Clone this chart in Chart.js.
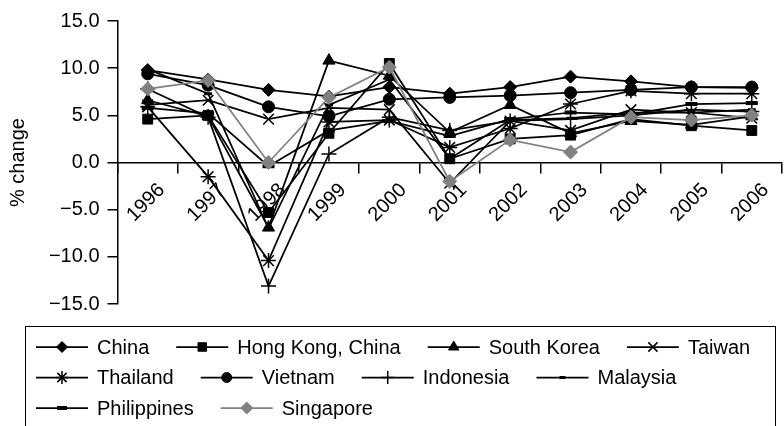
<!DOCTYPE html>
<html>
<head>
<meta charset="utf-8">
<style>
  html, body { margin: 0; padding: 0; background: #ffffff; overflow: hidden; }
  #wrap { width: 792px; height: 426px; position: relative; }
</style>
<script src="https://cdn.jsdelivr.net/npm/chart.js@4.4.1/dist/chart.umd.min.js"></script>
</head>
<body>
<div id="wrap"><canvas id="c" width="792" height="426"></canvas></div>
<script>
// Annual GDP growth, % change, 1996-2006
const years = ['1996','1997','1998','1999','2000','2001','2002','2003','2004','2005','2006'];

const china       = [9.8, 8.8, 7.7, 7.0, 8.0, 7.3, 8.0, 9.1, 8.6, 8.0, 7.9];
const hongKong    = [4.6, 5.0, -5.3, 3.1, 10.5, 0.4, 2.5, 2.9, 4.6, 3.9, 3.4];
const southKorea  = [6.6, 4.9, -6.9, 10.8, 9.2, 3.2, 6.1, 3.1, 4.4, 4.0, 4.9];
const taiwan      = [6.1, 6.6, 4.6, 5.8, 5.6, -2.2, 4.4, 3.4, 5.6, 5.3, 4.7];
const thailand    = [5.9, -1.5, -10.4, 4.3, 4.5, 1.6, 3.6, 6.2, 7.6, 7.3, 7.3];
const vietnam     = [9.4, 8.2, 5.9, 4.9, 6.7, 6.9, 7.1, 7.4, 7.7, 8.0, 8.0];
const indonesia   = [7.8, 4.8, -13.1, 0.9, 4.8, 3.4, 4.4, 4.6, 5.0, 5.6, 5.4];
const malaysia    = [9.9, 7.3, -7.0, 6.1, 8.8, 0.4, 4.5, 4.7, 5.3, 5.3, 5.6];
const philippines = [5.8, 5.2, -0.4, 3.4, 4.4, 2.8, 4.6, 5.3, 5.1, 6.2, 6.3];
const singapore   = [7.8, 8.7, 0.0, 6.9, 10.1, -2.0, 2.4, 1.1, 4.8, 4.5, 5.0];

const seriesNames = ['China', 'Hong Kong, China', 'South Korea', 'Taiwan', 'Thailand',
                     'Vietnam', 'Indonesia', 'Malaysia', 'Philippines', 'Singapore'];
const seriesValues = [china, hongKong, southKorea, taiwan, thailand,
                      vietnam, indonesia, malaysia, philippines, singapore];

const yTicks = [-15, -10, -5, 0, 5, 10, 15];

const FONT = '"Liberation Sans", Arial, Helvetica, sans-serif';
const BLACK = '#000000';
const GREY = '#808080';

// marker look for each series
const markerStyles = [
  { style: 'rectRot',  r: 6.5, fill: BLACK, stroke: BLACK, bw: 1,   line: BLACK },
  { style: 'rect',     r: 7,   fill: BLACK, stroke: BLACK, bw: 1,   line: BLACK },
  { style: 'triangle', r: 7,   fill: BLACK, stroke: BLACK, bw: 1,   line: BLACK },
  { style: 'crossRot', r: 7.5, fill: BLACK, stroke: BLACK, bw: 1.5, line: BLACK },
  { style: 'star',     r: 7.5, fill: BLACK, stroke: BLACK, bw: 1.5, line: BLACK },
  { style: 'circle',   r: 6,   fill: BLACK, stroke: BLACK, bw: 1,   line: BLACK },
  { style: 'cross',    r: 7.5, fill: BLACK, stroke: BLACK, bw: 1.5, line: BLACK },
  { style: 'line',     r: 4,   fill: BLACK, stroke: BLACK, bw: 3,   line: BLACK },
  { style: 'line',     r: 6,   fill: BLACK, stroke: BLACK, bw: 4,   line: BLACK },
  { style: 'rectRot',  r: 7,   fill: GREY,  stroke: GREY,  bw: 1,   line: GREY }
];

const datasets = seriesNames.map((name, i) => {
  const m = markerStyles[i];
  return {
    label: name,
    data: seriesValues[i],
    borderColor: m.line,
    borderWidth: 1.75,
    tension: 0,
    fill: false,
    pointStyle: m.style,
    pointRadius: m.r,
    pointHoverRadius: m.r,
    pointBackgroundColor: m.fill,
    pointBorderColor: m.stroke,
    pointBorderWidth: m.bw,
    order: seriesNames.length - 1 - i   // later series sit on top
  };
});

function fmtTick(v) {
  const s = Math.abs(v).toFixed(1);
  return v < 0 ? '\u2212' + s : s;
}

// legend in a framed box below the plot: line sample + marker + name
const legendRows = [[0, 1, 2, 3], [4, 5, 6, 7], [8, 9]];
const boxLegend = {
  id: 'boxLegend',
  afterDraw(chart) {
    const ctx = chart.ctx;
    ctx.save();
    ctx.strokeStyle = BLACK;
    ctx.lineWidth = 1;
    ctx.strokeRect(25.5, 326.5, 750, 130);
    ctx.font = '20px ' + FONT;
    ctx.textBaseline = 'middle';
    ctx.textAlign = 'left';
    legendRows.forEach((row, r) => {
      let x = 36;
      const y = 347 + r * 30.5;
      row.forEach(i => {
        const ds = chart.data.datasets[i];
        ctx.strokeStyle = ds.borderColor;
        ctx.lineWidth = ds.borderWidth;
        ctx.beginPath();
        ctx.moveTo(x, y);
        ctx.lineTo(x + 52, y);
        ctx.stroke();
        ctx.fillStyle = ds.pointBackgroundColor;
        ctx.strokeStyle = ds.pointBorderColor;
        ctx.lineWidth = ds.pointBorderWidth;
        Chart.helpers.drawPoint(ctx, {
          pointStyle: ds.pointStyle, radius: ds.pointRadius - 1,
          rotation: 0, borderWidth: ds.pointBorderWidth
        }, x + 26, y);
        ctx.fillStyle = BLACK;
        ctx.fillText(ds.label, x + 61, y + 1);
        x += 61 + ctx.measureText(ds.label).width + 27;
      });
    });
    ctx.restore();
  }
};

new Chart(document.getElementById('c'), {
  type: 'line',
  data: { labels: years, datasets: datasets },
  plugins: [boxLegend],
  options: {
    responsive: false,
    animation: false,
    devicePixelRatio: 1,
    layout: { padding: { left: 0, right: 4.5, top: 21, bottom: 122 } },
    plugins: { legend: { display: false }, tooltip: { enabled: false } },
    scales: {
      x: {
        type: 'category',
        position: { y: 0 },
        offset: true,
        grid: {
          display: true, offset: true, drawOnChartArea: false, drawTicks: true,
          tickLength: 10, color: BLACK, lineWidth: 1.5, tickWidth: 1.5
        },
        border: { display: true, color: BLACK, width: 1.5 },
        ticks: {
          color: BLACK, font: { family: FONT, size: 20 },
          maxRotation: 45, minRotation: 45, autoSkip: false,
          padding: 6, labelOffset: 14
        }
      },
      y: {
        min: -15, max: 15,
        afterBuildTicks(scale) { scale.ticks = yTicks.map(v => ({ value: v })); },
        afterFit(scale) { scale.width = 117.5; },
        grid: {
          display: true, drawOnChartArea: false, drawTicks: true,
          tickLength: 10, color: BLACK, lineWidth: 1.5, tickWidth: 1.5
        },
        border: { display: true, color: BLACK, width: 1.5 },
        ticks: {
          color: BLACK, font: { family: FONT, size: 20 }, padding: 8,
          callback: v => fmtTick(v)
        },
        title: {
          display: true, text: '% change', color: BLACK,
          font: { family: FONT, size: 20 }, padding: { top: 6, bottom: 0 }
        }
      }
    }
  }
});
</script>
</body>
</html>
